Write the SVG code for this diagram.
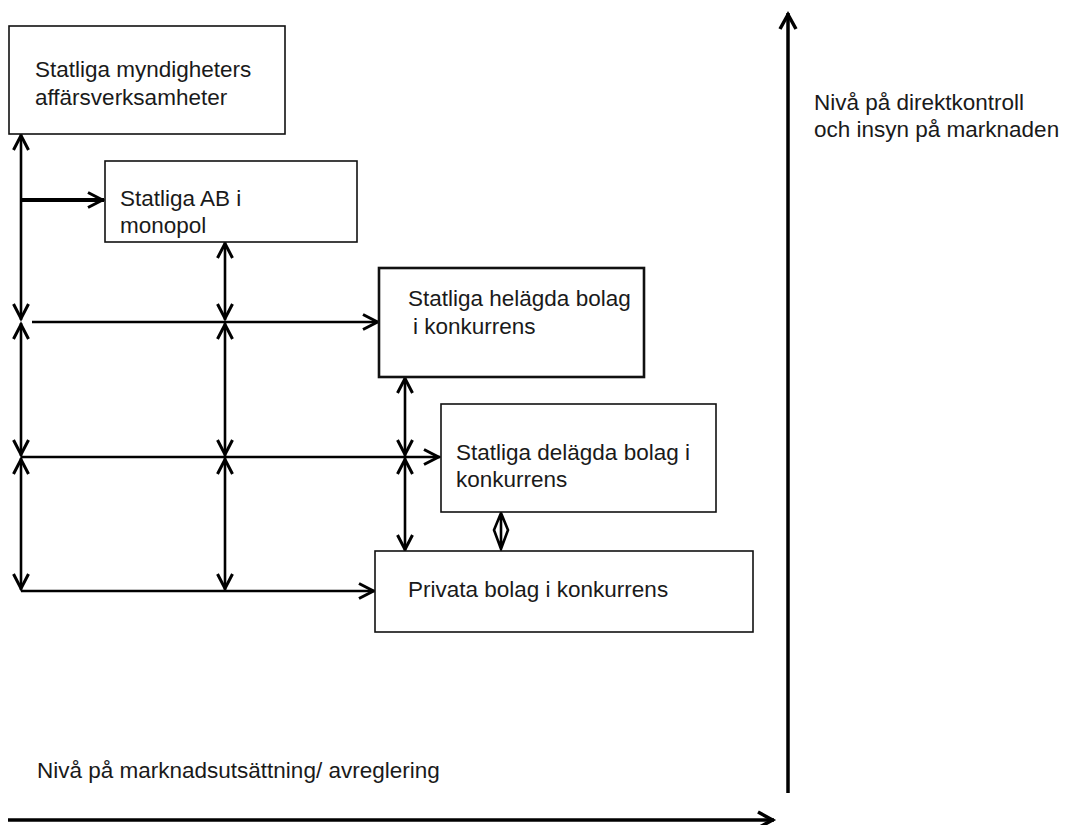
<svg xmlns="http://www.w3.org/2000/svg" width="1065" height="825" viewBox="0 0 1065 825">
<style>
  .box { fill: #fff; stroke: #111; stroke-width: 1.6; }
  .box-bold { fill: #fff; stroke: #111; stroke-width: 2.6; }
  .lbl { font-family: "Liberation Sans", Arial, sans-serif; font-size: 22.5px; fill: #1a1a1a; }
  .c { fill: none; stroke: #000; stroke-width: 2.6; }
  .c-thick { fill: none; stroke: #000; stroke-width: 4; }
  .axis { fill: none; stroke: #000; stroke-width: 3.5; }
</style>
<defs>
  <marker id="ah" viewBox="-20 -10 22 20" refX="0" refY="0" markerWidth="22" markerHeight="20" markerUnits="userSpaceOnUse" orient="auto-start-reverse" overflow="visible">
    <path d="M-16,-7.5 L-1.5,0 L-16,7.5" fill="none" stroke="#000" stroke-width="3"/>
  </marker>
  <marker id="ahx" viewBox="-20 -10 22 20" refX="0" refY="0" markerWidth="22" markerHeight="20" markerUnits="userSpaceOnUse" orient="auto-start-reverse" overflow="visible">
    <path d="M-16,-8 L-1.5,0 L-16,8" fill="none" stroke="#000" stroke-width="3.5"/>
  </marker>
</defs>

<g id="connectors">
  <!-- left column -->
  <line class="c" x1="21" y1="134" x2="21" y2="320" marker-start="url(#ah)" marker-end="url(#ah)"/>
  <line class="c" x1="21" y1="323" x2="21" y2="456" marker-start="url(#ah)" marker-end="url(#ah)"/>
  <line class="c" x1="21" y1="458" x2="21" y2="590" marker-start="url(#ah)" marker-end="url(#ah)"/>
  <!-- middle column -->
  <line class="c" x1="225" y1="242" x2="225" y2="320" marker-start="url(#ah)" marker-end="url(#ah)"/>
  <line class="c" x1="225" y1="323" x2="225" y2="456" marker-start="url(#ah)" marker-end="url(#ah)"/>
  <line class="c" x1="225" y1="458" x2="225" y2="590" marker-start="url(#ah)" marker-end="url(#ah)"/>
  <!-- right column -->
  <line class="c" x1="405" y1="377" x2="405" y2="456" marker-start="url(#ah)" marker-end="url(#ah)"/>
  <line class="c" x1="405" y1="458" x2="405" y2="551" marker-start="url(#ah)" marker-end="url(#ah)"/>
  <!-- horizontals -->
  <line class="c-thick" x1="21" y1="200" x2="104" y2="200" marker-end="url(#ah)"/>
  <line class="c" x1="32" y1="322" x2="379" y2="322" marker-end="url(#ah)"/>
  <line class="c" x1="21" y1="457" x2="440" y2="457" marker-end="url(#ah)"/>
  <line class="c" x1="21" y1="591" x2="375" y2="591" marker-end="url(#ah)"/>
  <!-- small double arrow between delägda and privata -->
  <path class="c" d="M501,513 L494,530 L501,549 L508,530 Z M501,513 L501,549"/>
  <!-- axes -->
  <line class="axis" x1="788" y1="793" x2="788" y2="13" marker-end="url(#ahx)"/>
  <line class="axis" x1="8" y1="820" x2="774" y2="820" marker-end="url(#ahx)"/>
</g>

<g id="n-myndigheter">
  <rect class="box" x="9" y="26" width="276" height="108"/>
  <text class="lbl" x="35" y="77">Statliga myndigheters</text>
  <text class="lbl" x="35" y="105">affärsverksamheter</text>
</g>
<g id="n-monopol">
  <rect class="box" x="105" y="161" width="252" height="81"/>
  <text class="lbl" x="120" y="206">Statliga AB i</text>
  <text class="lbl" x="120" y="233">monopol</text>
</g>
<g id="n-helagda">
  <rect class="box-bold" x="379" y="268" width="265" height="109"/>
  <text class="lbl" x="408" y="306">Statliga helägda bolag</text>
  <text class="lbl" x="413" y="334">i konkurrens</text>
</g>
<g id="n-delagda">
  <rect class="box" x="441" y="404" width="275" height="108"/>
  <text class="lbl" x="456" y="460">Statliga delägda bolag i</text>
  <text class="lbl" x="456" y="487">konkurrens</text>
</g>
<g id="n-privata">
  <rect class="box" x="375" y="551" width="378" height="81"/>
  <text class="lbl" x="408" y="597">Privata bolag i konkurrens</text>
</g>
<g id="axis-labels">
  <text class="lbl" x="814" y="110">Nivå på direktkontroll</text>
  <text class="lbl" x="814" y="137">och insyn på marknaden</text>
  <text class="lbl" x="37" y="778">Nivå på marknadsutsättning/ avreglering</text>
</g>
</svg>
